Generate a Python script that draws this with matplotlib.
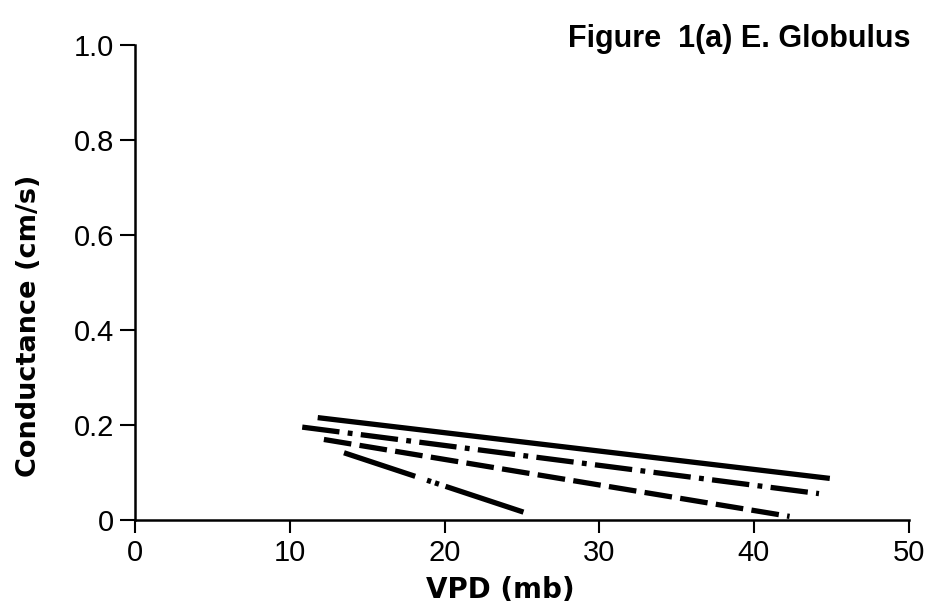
import matplotlib
matplotlib.use("Agg")
import matplotlib.pyplot as plt

# Fitted conductance vs VPD lines for E. globulus (start/end points)
solid_x = [11.8, 44.9]
solid_y = [0.216, 0.088]

dashdot_x = [10.8, 44.2]
dashdot_y = [0.196, 0.056]

dashed_x = [12.2, 42.3]
dashed_y = [0.170, 0.008]

dashdotdot_x = [13.5, 25.1]
dashdotdot_y = [0.142, 0.017]

xticks = [0, 10, 20, 30, 40, 50]
yticks = [0, 0.2, 0.4, 0.6, 0.8, 1.0]
yticklabels = ["0", "0.2", "0.4", "0.6", "0.8", "1.0"]

plt.rcParams["font.family"] = ["Liberation Sans", "DejaVu Sans"]
plt.rcParams["lines.scale_dashes"] = False

fig = plt.figure(figsize=(9.32, 6.12), dpi=100)
ax = fig.add_axes([0.145, 0.150, 0.830, 0.776])

lw = 3.8
ax.plot(solid_x, solid_y, color="black", lw=lw, solid_capstyle="butt")
ax.plot(dashed_x, dashed_y, color="black", lw=lw,
        dashes=(20, 6), dash_capstyle="butt")
ax.plot(dashdot_x, dashdot_y, color="black", lw=lw,
        dashes=(27, 6, 3.5, 6), dash_capstyle="butt")
ax.plot(dashdotdot_x, dashdotdot_y, color="black", lw=lw,
        dashes=(54, 9, 3, 3, 3, 5, 70, 10), dash_capstyle="butt")

ax.set_xlim(0, 50)
ax.set_ylim(0, 1.0)
ax.set_xticks(xticks)
ax.set_xticklabels([str(t) for t in xticks])
ax.set_yticks(yticks)
ax.set_yticklabels(yticklabels)

for s in ["top", "right"]:
    ax.spines[s].set_visible(False)
for s in ["left", "bottom"]:
    ax.spines[s].set_linewidth(1.8)

ax.tick_params(axis="y", direction="out", length=11, width=1.5, pad=4,
               labelsize=21)
ax.tick_params(axis="x", direction="out", length=9.5, width=1.5, pad=4,
               labelsize=21)

bold = ["DejaVu Sans"]
ax.set_xlabel("VPD (mb)", fontsize=20, fontweight="bold", family=bold)
ax.xaxis.set_label_coords(0.472, -0.118)
ax.set_ylabel("Conductance (cm/s)", fontsize=19.5, fontweight="bold",
              family=bold)
ax.yaxis.set_label_coords(-0.12, 0.41)

fig.text(0.977, 0.923, "Figure  1(a) E. Globulus", ha="right", va="baseline",
         fontsize=22, fontweight="bold", family=["Liberation Sans"])

fig.savefig("out.png", dpi=100)
